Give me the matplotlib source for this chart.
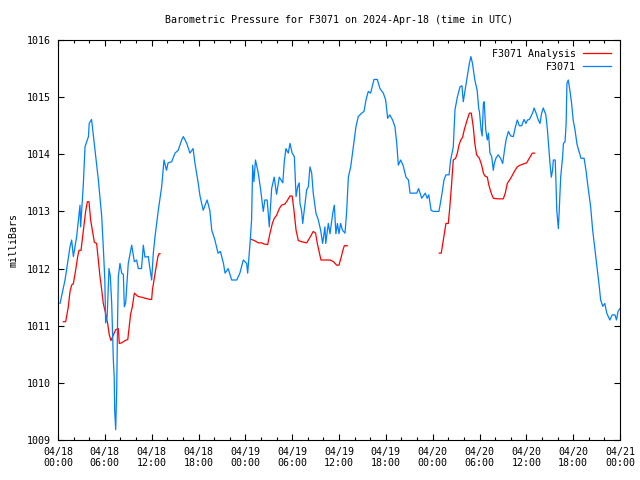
import datetime
import numpy as np
import matplotlib
matplotlib.use('Agg')
import matplotlib.pyplot as plt
import matplotlib.dates as mdates

# Heures depuis 2024-04-18 00:00 UTC, pression en mb
heuresObs = [0.26, 0.9, 1.54, 1.75, 1.97, 2.39, 2.82, 2.9, 3.24, 3.46, 3.9, 4.0, 4.3, 4.74,
             5.17, 5.6, 5.8, 6.0, 6.1, 6.3, 6.53, 6.7, 6.88, 7.09, 7.2, 7.26, 7.39, 7.52,
             7.64, 7.73, 7.94, 8.16, 8.37, 8.5, 8.67, 9.0, 9.44, 9.78, 10.07, 10.29, 10.7,
             10.93, 11.14, 11.57, 11.78, 12.0, 12.21, 12.43, 12.85, 13.28, 13.58, 13.9,
             14.1, 14.56, 14.99, 15.4, 15.84, 16.06, 16.5, 16.9, 17.3, 17.55, 17.97,
             18.18, 18.6, 19.1, 19.45, 19.7, 20.1, 20.5, 20.8, 21.2, 21.4, 21.8, 22.25,
             22.9, 23.3, 23.74, 24.17, 24.3, 24.6, 24.8, 24.94, 25.1, 25.3, 25.66, 25.96,
             26.3, 26.5, 26.8, 27.07, 27.37, 27.7, 28.0, 28.35, 28.8, 28.99, 29.2, 29.5,
             29.72, 30.0, 30.28, 30.5, 30.7, 30.9, 31.0, 31.2, 31.35, 31.65, 31.86, 32.07,
             32.28, 32.5, 32.7, 33.05, 33.35, 33.65, 33.9, 34.2, 34.3, 34.63, 34.85, 35.2,
             35.4, 35.6, 35.8, 36.0, 36.2, 36.45, 36.77, 36.98, 37.2, 37.5, 37.8, 38.17,
             38.47, 38.9, 39.2, 39.46, 39.75, 40.05, 40.3, 40.48, 40.9, 41.25, 41.68,
             41.98, 42.23, 42.5, 42.87, 43.17, 43.4, 43.6, 43.9, 44.2, 44.58, 44.9, 45.1,
             45.5, 45.97, 46.2, 46.6, 47.05, 47.3, 47.5, 47.8, 48.1, 48.8, 49.0, 49.2,
             49.45, 49.7, 50.1, 50.3, 50.64, 50.86, 51.16, 51.5, 51.75, 51.92, 52.15,
             52.35, 52.7, 52.9, 53.1, 53.4, 53.7, 53.9, 54.0, 54.2, 54.34, 54.5, 54.6,
             54.8, 55.0, 55.15, 55.34, 55.56, 55.77, 55.9, 56.1, 56.4, 56.7, 56.97, 57.2,
             57.4, 57.7, 58.0, 58.33, 58.55, 58.84, 59.1, 59.4, 59.7, 59.95, 60.15, 60.4,
             60.8, 61.0, 61.25, 61.53, 61.75, 61.96, 62.17, 62.5, 62.7, 63.03, 63.2,
             63.36, 63.46, 63.7, 63.8, 63.9, 64.05, 64.1, 64.2, 64.4, 64.65, 64.75, 64.96,
             65.1, 65.2, 65.37, 65.6, 65.8, 66.0, 66.23, 66.5, 66.8, 67.0, 67.4, 67.64,
             67.9, 68.24, 68.5, 68.8, 69.1, 69.35, 69.52, 69.8, 70.05, 70.3, 70.7, 71.0,
             71.35, 71.55, 71.75, 72.0]
pressionObs = [1011.39, 1011.8, 1012.38, 1012.5, 1012.21, 1012.56, 1013.11, 1012.73,
               1013.46, 1014.13, 1014.31, 1014.54, 1014.61, 1014.07, 1013.55, 1012.91,
               1012.38, 1011.8, 1011.05, 1011.16, 1012.0, 1011.87, 1011.39, 1010.4,
               1010.1, 1009.53, 1009.18, 1009.87, 1011.16, 1011.86, 1012.09, 1011.92,
               1011.9, 1011.33, 1011.4, 1012.09, 1012.41, 1012.12, 1012.15, 1012.0,
               1012.0, 1012.41, 1012.2, 1012.21, 1012.0, 1011.8, 1012.27, 1012.56,
               1013.02, 1013.43, 1013.9, 1013.72, 1013.85, 1013.87, 1014.02, 1014.07,
               1014.25, 1014.31, 1014.19, 1014.02, 1014.1, 1013.84, 1013.49, 1013.28,
               1013.02, 1013.2, 1013.02, 1012.67, 1012.5, 1012.27, 1012.3, 1012.09,
               1011.92, 1012.0, 1011.8, 1011.8, 1011.92, 1012.15, 1012.09, 1011.92,
               1012.44, 1012.85, 1013.81, 1013.52, 1013.9, 1013.67, 1013.38, 1013.0,
               1013.2, 1013.2, 1012.73, 1013.4, 1013.6, 1013.3, 1013.6, 1013.5, 1013.87,
               1014.1, 1014.02, 1014.19, 1014.02, 1013.96, 1013.26, 1013.43, 1013.5,
               1013.14, 1013.02, 1012.79, 1013.14, 1013.38, 1013.43, 1013.78, 1013.67,
               1013.32, 1012.97, 1012.85, 1012.67, 1012.44, 1012.73, 1012.44, 1012.79,
               1012.61, 1012.97, 1013.11, 1012.61, 1012.79, 1012.61, 1012.79, 1012.67,
               1012.62, 1013.0, 1013.6, 1013.78, 1014.1, 1014.48, 1014.66, 1014.72,
               1014.75, 1014.95, 1015.1, 1015.07, 1015.21, 1015.31, 1015.31, 1015.15,
               1015.07, 1014.95, 1014.63, 1014.69, 1014.6, 1014.48, 1014.19, 1013.81,
               1013.9, 1013.81, 1013.6, 1013.55, 1013.32, 1013.32, 1013.32, 1013.4,
               1013.23, 1013.32, 1013.23, 1013.29, 1013.02, 1013.0, 1013.0, 1013.15,
               1013.32, 1013.55, 1013.64, 1013.64, 1013.9, 1014.13, 1014.78, 1015.0,
               1015.18, 1015.2, 1014.92, 1015.12, 1015.3, 1015.59, 1015.71, 1015.59,
               1015.3, 1015.12, 1014.8, 1014.74, 1014.43, 1014.32, 1014.89, 1014.92,
               1014.43, 1014.25, 1014.37, 1014.02, 1013.96, 1013.72, 1013.84, 1013.93,
               1013.99, 1013.93, 1013.84, 1014.07, 1014.25, 1014.4, 1014.32, 1014.31,
               1014.45, 1014.6, 1014.5, 1014.5, 1014.61, 1014.54, 1014.6, 1014.61,
               1014.72, 1014.81, 1014.72, 1014.6, 1014.54, 1014.72, 1014.81, 1014.69,
               1014.43, 1013.84, 1013.6, 1013.72, 1013.9, 1013.9, 1013.49, 1013.02,
               1012.79, 1012.7, 1012.97, 1013.6, 1013.96, 1014.19, 1014.22, 1014.54,
               1015.24, 1015.3, 1015.1, 1014.89, 1014.6, 1014.43, 1014.17, 1014.03,
               1013.93, 1013.93, 1013.72, 1013.43, 1013.08, 1012.67, 1012.32, 1011.97,
               1011.68, 1011.45, 1011.34, 1011.39, 1011.22, 1011.1, 1011.19, 1011.19,
               1011.1, 1011.25, 1011.3]

# Analyse : trois segments (trous entre eux)
heuresAna1 = [0.68, 0.98, 1.32, 1.54, 1.75, 1.97, 2.26, 2.52, 2.69, 2.95, 3.16, 3.37, 3.54,
              3.76, 3.97, 4.18, 4.53, 4.66, 4.95, 5.17, 5.38, 5.6, 5.8, 6.1, 6.36, 6.57,
              6.79, 7.09, 7.39, 7.73, 7.85, 8.16, 8.6, 8.94, 9.1, 9.3, 9.52, 9.78, 10.29,
              10.7, 11.2, 11.78, 12.0, 12.1, 12.3, 12.5, 12.8, 12.94, 13.07]
pressionAna1 = [1011.07, 1011.07, 1011.33, 1011.6, 1011.71, 1011.74, 1011.97, 1012.21,
                1012.32, 1012.32, 1012.56, 1012.79, 1013.0, 1013.17, 1013.17, 1012.85,
                1012.56, 1012.46, 1012.44, 1012.15, 1011.86, 1011.63, 1011.39, 1011.22,
                1011.04, 1010.84, 1010.74, 1010.84, 1010.93, 1010.95, 1010.69, 1010.7,
                1010.74, 1010.76, 1010.95, 1011.2, 1011.33, 1011.57, 1011.51, 1011.5,
                1011.48, 1011.46, 1011.46, 1011.63, 1011.8, 1011.97, 1012.21, 1012.26,
                1012.26]
heuresAna2 = [24.8, 25.3, 25.66, 26.1, 26.4, 26.86, 27.16, 27.46, 27.71, 28.0, 28.35,
              28.65, 29.08, 29.42, 29.72, 30.0, 30.23, 30.5, 30.79, 31.2, 31.86, 32.3,
              32.7, 33.0, 33.22, 33.5, 33.69, 34.2, 34.85, 35.3, 35.7, 36.0, 36.3, 36.5,
              36.68, 37.06]
pressionAna2 = [1012.51, 1012.48, 1012.45, 1012.45, 1012.43, 1012.42, 1012.62, 1012.79,
                1012.88, 1012.93, 1013.05, 1013.11, 1013.13, 1013.2, 1013.27, 1013.27,
                1013.02, 1012.67, 1012.49, 1012.47, 1012.45, 1012.55, 1012.65, 1012.62,
                1012.44, 1012.27, 1012.15, 1012.15, 1012.15, 1012.12, 1012.06, 1012.06,
                1012.21, 1012.32, 1012.4, 1012.4]
heuresAna3 = [48.85, 49.1, 49.36, 49.6, 49.7, 50.0, 50.2, 50.43, 50.64, 50.94, 51.16,
              51.37, 51.6, 51.84, 52.05, 52.35, 52.7, 52.95, 53.2, 53.4, 53.63, 53.98,
              54.28, 54.5, 54.7, 55.0, 55.2, 55.5, 55.77, 56.4, 57.05, 57.3, 57.56, 57.9,
              58.24, 58.55, 58.84, 59.2, 59.6, 60.04, 60.5, 60.76, 61.06]
pressionAna3 = [1012.27, 1012.27, 1012.5, 1012.7, 1012.79, 1012.79, 1013.08, 1013.49,
                1013.9, 1013.93, 1014.02, 1014.16, 1014.25, 1014.3, 1014.43, 1014.57,
                1014.72, 1014.72, 1014.48, 1014.19, 1013.99, 1013.93, 1013.81, 1013.67,
                1013.62, 1013.6, 1013.46, 1013.32, 1013.23, 1013.22, 1013.22, 1013.32,
                1013.49, 1013.56, 1013.64, 1013.72, 1013.78, 1013.81, 1013.83, 1013.85,
                1013.96, 1014.02, 1014.02]

debut = datetime.datetime(2024, 4, 18, 0, 0)

def versDates(heures):
    return [debut + datetime.timedelta(hours=h) for h in heures]

# Segments de l'analyse relies par NaN pour couper la courbe
heuresAna = heuresAna1 + [37.5] + heuresAna2 + [45.0] + heuresAna3
pressionAna = pressionAna1 + [np.nan] + pressionAna2 + [np.nan] + pressionAna3

police = 'DejaVu Sans Mono'
taille = 7.2
plt.rcParams['font.family'] = police
plt.rcParams['font.size'] = taille

fig = plt.figure(figsize=(6.4, 4.8), dpi=100, facecolor='white')
ax = fig.add_axes([58/640, 40/480, 562/640, 400/480])

ax.plot(versDates(heuresAna), pressionAna, color='#ff0000', lw=0.9,
        label='F3071 Analysis')
ax.plot(versDates(heuresObs), pressionObs, color='#0080ff', lw=0.9,
        label='F3071')

ax.set_xlim(debut, debut + datetime.timedelta(hours=72))
ax.set_ylim(1009, 1016)
ax.set_yticks(range(1009, 1017))

ax.xaxis.set_major_locator(mdates.HourLocator(byhour=range(0, 24, 6)))
ax.xaxis.set_minor_locator(mdates.HourLocator(byhour=range(0, 24, 2)))
ax.xaxis.set_major_formatter(mdates.DateFormatter('%m/%d\n%H:%M'))

ax.tick_params(which='both', direction='in', top=True, right=True,
               width=0.8, colors='black', labelsize=taille)
ax.tick_params(which='major', length=4.5, pad=5)
ax.tick_params(which='minor', length=2.5)
for label in ax.get_xticklabels():
    label.set_linespacing(1.15)
for spine in ax.spines.values():
    spine.set_linewidth(0.8)

ax.set_ylabel('milliBars', labelpad=6)
fig.text(339/640, 1 - 20/480, 'Barometric Pressure for F3071 on 2024-Apr-18 (time in UTC)',
         ha='center', va='center')

ax.legend(loc='upper right', markerfirst=False, frameon=False, handlelength=2.8,
          handletextpad=0.7, labelspacing=0.3, borderaxespad=0.6, borderpad=0.3,
          fontsize=taille)

fig.savefig('out.png', dpi=100)
plt.close()
